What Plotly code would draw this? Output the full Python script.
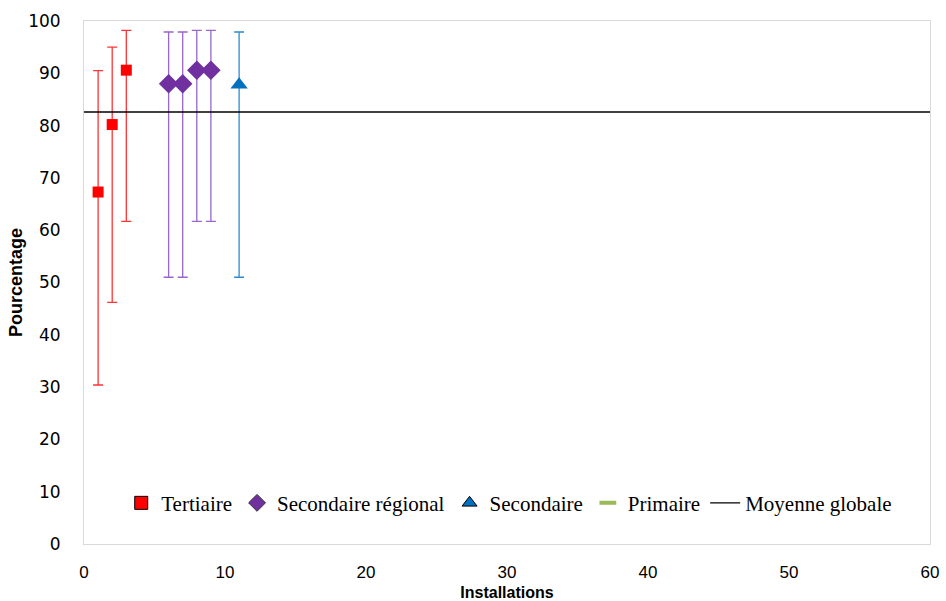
import plotly.graph_objects as go

# Tertiaire
ter_x = [1, 2, 3]
ter_y = [67.3, 80.2, 90.6]
ter_hi = [90.5, 95.0, 98.2]
ter_lo = [30.4, 46.2, 61.7]

# Secondaire régional
reg_x = [6, 7, 8, 9]
reg_y = [88.0, 88.0, 90.6, 90.6]
reg_hi = [97.9, 97.9, 98.2, 98.2]
reg_lo = [51.0, 51.0, 61.7, 61.7]

# Secondaire
sec_x = [11]
sec_y = [87.8]
sec_hi = [97.9]
sec_lo = [51.0]

# Moyenne globale
mean_value = 82.6
x_range = [0, 60]
y_range = [0, 100]

names = ["Tertiaire", "Secondaire régional", "Secondaire", "Primaire", "Moyenne globale"]

def err(y, hi, lo):
    return [h - v for v, h in zip(y, hi)], [v - l for v, l in zip(y, lo)]

fig = go.Figure()

up, dn = err(ter_y, ter_hi, ter_lo)
fig.add_trace(go.Scatter(
    x=ter_x, y=ter_y, mode="markers", name=names[0], showlegend=False,
    marker=dict(symbol="square", size=11, color="#FF0000", line=dict(width=0)),
    error_y=dict(type="data", symmetric=False, array=up, arrayminus=dn,
                 color="#FF3333", thickness=1.3, width=5),
))

up, dn = err(reg_y, reg_hi, reg_lo)
fig.add_trace(go.Scatter(
    x=reg_x, y=reg_y, mode="markers", name=names[1], showlegend=False,
    marker=dict(symbol="diamond", size=15, color="#7030A0", line=dict(width=0)),
    error_y=dict(type="data", symmetric=False, array=up, arrayminus=dn,
                 color="#9966CC", thickness=1.3, width=5),
))

up, dn = err(sec_y, sec_hi, sec_lo)
fig.add_trace(go.Scatter(
    x=sec_x, y=sec_y, mode="markers", name=names[2], showlegend=False,
    marker=dict(symbol="triangle-up", size=15, color="#0070C0", line=dict(width=0)),
    error_y=dict(type="data", symmetric=False, array=up, arrayminus=dn,
                 color="#2E8BD0", thickness=1.3, width=5),
))

# legend-only entries (outlined markers as in the reference legend)
fig.add_trace(go.Scatter(
    x=[None], y=[None], mode="markers", name=names[0],
    marker=dict(symbol="square", size=13, color="#FF0000", line=dict(color="black", width=1)),
))
fig.add_trace(go.Scatter(
    x=[None], y=[None], mode="markers", name=names[1],
    marker=dict(symbol="diamond", size=13, color="#7030A0", line=dict(color="#333333", width=1)),
))
fig.add_trace(go.Scatter(
    x=[None], y=[None], mode="markers", name=names[2],
    marker=dict(symbol="triangle-up", size=13, color="#0070C0", line=dict(color="black", width=1)),
))
fig.add_trace(go.Scatter(
    x=[None], y=[None], mode="markers", name=names[3],
    marker=dict(symbol="line-ew-open", size=12, color="#9BBB59",
                line=dict(color="#9BBB59", width=4)),
))

fig.add_trace(go.Scatter(
    x=x_range, y=[mean_value, mean_value], mode="lines", name=names[4],
    line=dict(color="black", width=1.3),
))

fig.update_layout(
    width=946, height=601,
    margin=dict(l=84, r=16, t=21, b=57),
    paper_bgcolor="white", plot_bgcolor="white",
    showlegend=True,
    legend=dict(
        orientation="h", x=0.044, y=0.078, xanchor="left", yanchor="middle",
        font=dict(family="Liberation Serif, Times New Roman, serif", size=21, color="black"),
        bgcolor="rgba(0,0,0,0)", tracegroupgap=0,
    ),
    xaxis=dict(
        range=x_range, dtick=10, showgrid=False, zeroline=False,
        showline=True, linecolor="#D9D9D9", linewidth=1, mirror=True,
        ticks="", ticklabelstandoff=13, automargin=False,
        tickfont=dict(family="Liberation Sans Narrow, Arial Narrow, Liberation Sans", size=17, color="black"),
        title=dict(text="<b>Installations</b>", standoff=5,
                   font=dict(family="Liberation Sans Narrow, Arial Narrow, Liberation Sans", size=16, color="black")),
    ),
    yaxis=dict(
        range=y_range, dtick=10, showgrid=False, zeroline=False,
        showline=True, linecolor="#D9D9D9", linewidth=1, mirror=True,
        ticks="", ticklabelstandoff=19, automargin=False,
        tickfont=dict(family="DejaVu Sans, Verdana", size=17, color="black"),
        title=dict(text="<b>Pourcentage</b>", standoff=0,
                   font=dict(family="Liberation Sans Narrow, Arial Narrow, Liberation Sans", size=18, color="black")),
    ),
)

fig.write_html("out.html")
